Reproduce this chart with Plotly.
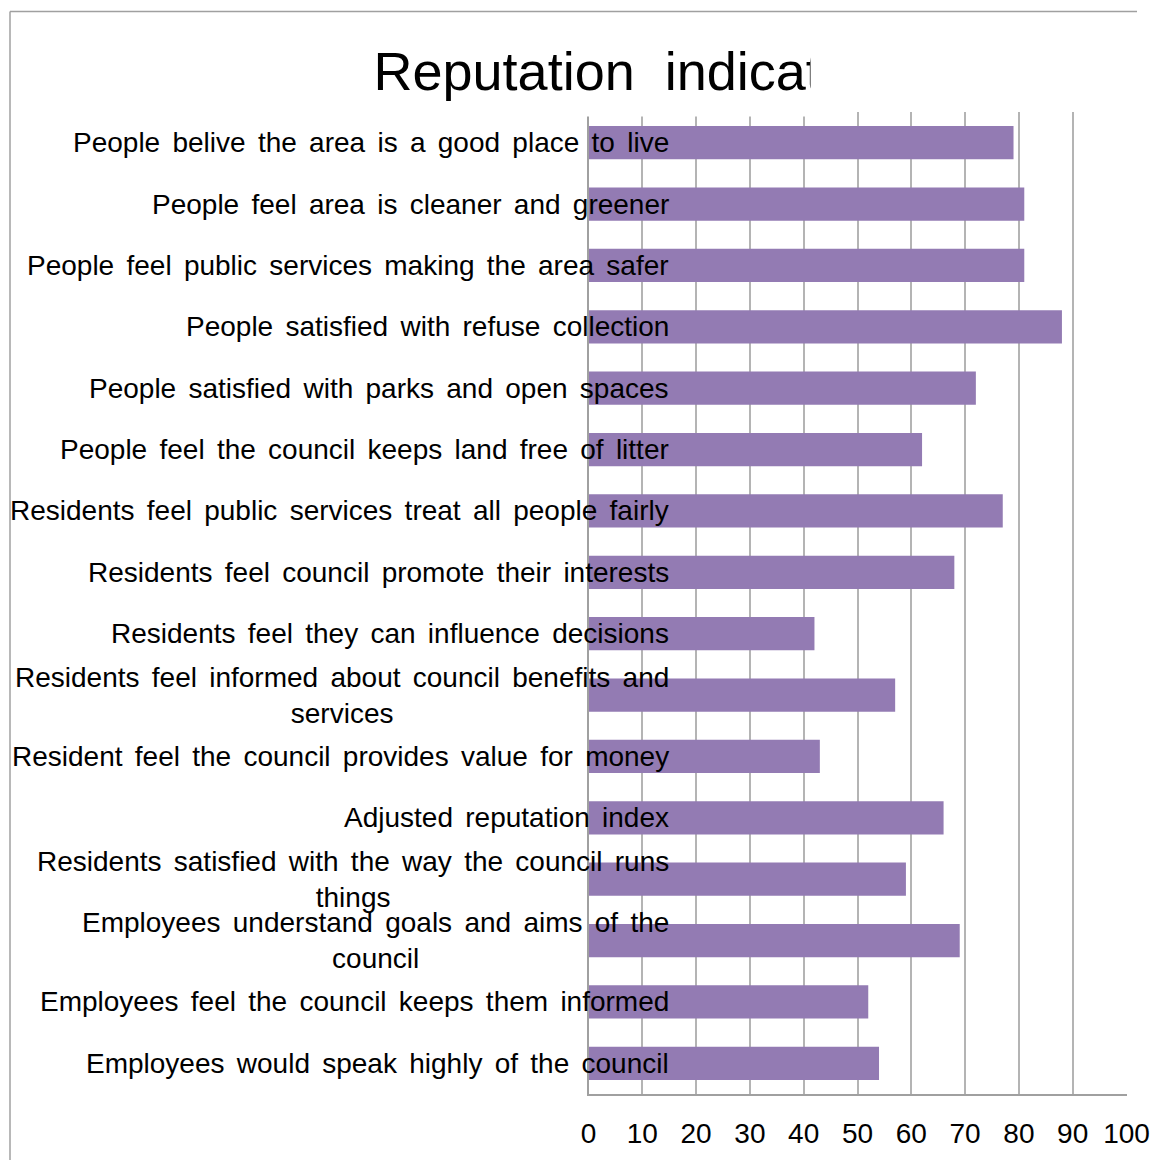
import plotly.graph_objects as go

categories = [
    "People belive the area is a good place to live",
    "People feel area is cleaner and greener",
    "People feel public services making the area safer",
    "People satisfied with refuse collection",
    "People satisfied with parks and open spaces",
    "People feel the council keeps land free of litter",
    "Residents feel public services treat all people fairly",
    "Residents feel council promote their interests",
    "Residents feel they can influence decisions",
    "Residents feel informed about council benefits and<br>services",
    "Resident feel the council provides value for money",
    "Adjusted reputation index",
    "Residents satisfied with the way the council runs<br>things",
    "Employees understand goals and aims of the<br>council",
    "Employees feel the council keeps them informed",
    "Employees would speak highly of the council",
]
values = [79, 81, 81, 88, 72, 62, 77, 68, 42, 57, 43, 66, 59, 69, 52, 54]
x_ticks = [0, 10, 20, 30, 40, 50, 60, 70, 80, 90, 100]
title_text = "Reputation  indicators"

W, H = 1160, 1160
FONT = "Liberation Sans, Arial, sans-serif"

# the viewer shows the paper about 1129 px wide, ~7.5 px from the left edge
OFF, PW = 7.5, 1129.0


def px(xs):
    return (xs - OFF) / PW


def py(ys):
    return (H - ys) / H


def spaced(text):
    return "<br>".join(
        '<span style="word-spacing:4.5px">%s</span>' % line
        for line in text.split("<br>")
    )


fig = go.Figure()
fig.add_trace(go.Bar(
    x=values, y=list(range(len(categories))), orientation="h",
    marker=dict(color="#937bb3", line=dict(width=0)),
    hoverinfo="skip", showlegend=False,
))

# clipped title in its own invisible subplot
fig.add_trace(go.Scatter(
    x=[0], y=[0.5], mode="text", text=[title_text],
    textposition="middle right", cliponaxis=True,
    textfont=dict(size=54, color="#000000", family=FONT),
    xaxis="x2", yaxis="y2", hoverinfo="skip", showlegend=False,
))

annotations = []
for i, c in enumerate(categories):
    annotations.append(dict(
        x=0, y=i, xref="x", yref="y", text=spaced(c), showarrow=False,
        xanchor="right", yanchor="middle", align="center", xshift=82,
        font=dict(size=28, color="#000000", family=FONT),
    ))

frame = dict(color="#a0a0a0", width=1.5)

fig.update_layout(
    width=W, height=H, autosize=False,
    margin=dict(l=0, r=0, t=0, b=0),
    paper_bgcolor="white", plot_bgcolor="white",
    bargap=0.46,
    font=dict(family=FONT, color="#000000"),
    xaxis=dict(
        domain=[px(588), px(1126)], range=[0, 100],
        tickvals=x_ticks, ticktext=[str(t) for t in x_ticks],
        showgrid=True, gridcolor="#b4b4b4", gridwidth=1.5,
        showline=True, linecolor="#a0a0a0", linewidth=1.5,
        zeroline=False, ticks="", ticklabelstandoff=14,
        ticklabeloverflow="allow",
        tickfont=dict(size=28, color="#000000", family=FONT),
        fixedrange=True,
    ),
    yaxis=dict(
        domain=[py(1094), py(112)],
        range=[len(categories) - 0.5, -0.5],
        showticklabels=False, showgrid=False, zeroline=False,
        showline=True, linecolor="#a0a0a0", linewidth=1.5,
        ticks="", fixedrange=True,
    ),
    xaxis2=dict(domain=[px(373), px(810)], range=[0, 1], visible=False,
                anchor="y2", fixedrange=True),
    yaxis2=dict(domain=[py(116.5), py(36.5)], range=[0, 1],
                visible=False, anchor="x2", fixedrange=True),
    annotations=annotations,
    shapes=[
        dict(type="line", xref="paper", yref="paper",
             x0=px(9.5), x1=px(9.5), y0=0, y1=py(11.5), line=frame),
        dict(type="line", xref="paper", yref="paper",
             x0=px(9.5), x1=1, y0=py(11.5), y1=py(11.5), line=frame),
    ],
)

fig.write_html("out.html", config={"responsive": False})
